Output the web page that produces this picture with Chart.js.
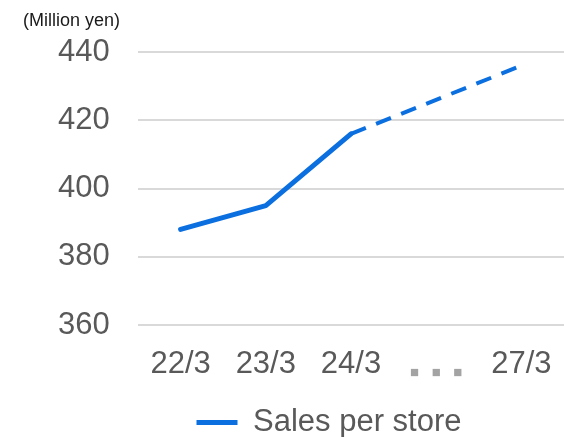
<!DOCTYPE html>
<html>
<head>
<meta charset="utf-8">
<script src="https://cdn.jsdelivr.net/npm/chart.js@4/dist/chart.umd.min.js"></script>
<style>
  html, body { margin: 0; padding: 0; background: #fff; }
  #caixa { width: 564px; height: 437px; position: relative; }
</style>
</head>
<body>
<div id="caixa"><canvas id="meuGrafico"></canvas></div>
<script>
const reticencias = "■   ■   ■";
const periodos = ["22/3", "23/3", "24/3", reticencias, "27/3"];
const vendasReais = [388, 395, 416, null, null];
const vendasPlano = [null, null, 416, null, 436];
const ticksY = [360, 380, 400, 420, 440];
const unidade = "(Million yen)";
const nomeSerie = "Sales per store";

const fonte = "'Liberation Sans', Arial, sans-serif";
const azul = "#0b6fe0";
const cinzaTexto = "#595959";
const indiceReticencias = periodos.indexOf(reticencias);

// texto da unidade no canto superior esquerdo
const tituloUnidade = {
  id: "tituloUnidade",
  afterDraw(chart) {
    const c = chart.ctx;
    c.save();
    c.font = "18px " + fonte;
    c.fillStyle = "#1a1a1a";
    c.textBaseline = "middle";
    c.fillText(unidade, 23, 21);
    c.restore();
  },
};

const ctx = document.getElementById("meuGrafico").getContext("2d");

const meuGrafico = new Chart(ctx, {
  type: "line",
  data: {
    labels: periodos,
    datasets: [
      {
        label: nomeSerie,
        data: vendasReais,
        borderColor: azul,
        backgroundColor: azul,
        borderWidth: 5,
        borderCapStyle: "round",
        borderJoinStyle: "round",
        pointRadius: 0,
        tension: 0,
      },
      {
        label: "plano",
        data: vendasPlano,
        borderColor: azul,
        backgroundColor: azul,
        borderWidth: 4,
        borderDash: [16, 11],
        pointRadius: 0,
        spanGaps: true,
        tension: 0,
      },
    ],
  },
  options: {
    responsive: true,
    maintainAspectRatio: false,
    animation: false,
    layout: {
      padding: { top: 52, left: 94, right: 0, bottom: 0 },
    },
    plugins: {
      legend: {
        position: "bottom",
        maxHeight: 30,
        labels: {
          filter: (item) => item.datasetIndex === 0,
          usePointStyle: true,
          pointStyle: "line",
          pointStyleWidth: 41,
          padding: 0,
          color: cinzaTexto,
          font: { family: fonte, size: 31 },
        },
      },
      tooltip: { enabled: false },
    },
    scales: {
      x: {
        offset: true,
        border: { display: false },
        grid: { display: false, drawTicks: false },
        afterFit: (escala) => {
          escala.height = 82;
          escala.paddingLeft = 0;
          escala.paddingRight = 0;
        },
        ticks: {
          autoSkip: false,
          maxRotation: 0,
          padding: 21,
          color: (c) => (c.index === indiceReticencias ? "#a3a3a3" : cinzaTexto),
          font: (c) =>
            c.index === indiceReticencias
              ? { family: fonte, size: 15, lineHeight: "54px" }
              : { family: fonte, size: 31 },
        },
      },
      y: {
        min: ticksY[0],
        max: ticksY[ticksY.length - 1],
        border: { display: false },
        grid: { color: "#d9d9d9", lineWidth: 2, drawTicks: false },
        afterFit: (escala) => {
          escala.width = 44;
        },
        afterBuildTicks: (escala) => {
          escala.ticks = ticksY.map((v) => ({ value: v }));
        },
        ticks: {
          mirror: true,
          padding: -80,
          color: cinzaTexto,
          font: { family: fonte, size: 31 },
        },
      },
    },
  },
  plugins: [tituloUnidade],
});
</script>
</body>
</html>
